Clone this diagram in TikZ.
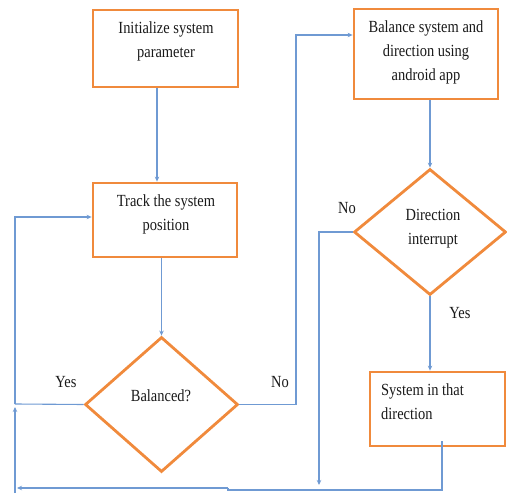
\documentclass[tikz,border=0pt]{standalone}
\usepackage{fontspec}
\setmainfont{Liberation Serif}[FakeStretch=0.85]
\usetikzlibrary{arrows.meta,shapes.geometric}
\definecolor{orng}{HTML}{F08A3C}
\definecolor{lblue}{HTML}{6F9AD3}
\begin{document}
\begin{tikzpicture}[x=1pt,y=-1pt,
  box/.style={draw=orng,line width=2.8pt,inner sep=0pt,rectangle},
  dia/.style={draw=orng,line width=2.8pt,inner sep=0pt,diamond},
  txt/.style={font=\fontsize{17}{24}\selectfont,align=center,inner sep=0pt,text=black!90},
  lab/.style={font=\fontsize{17}{24}\selectfont,inner sep=0pt,text=black!90},
  ln/.style={draw=lblue,line width=1.1pt},
  arr/.style={ln,-{Stealth[length=5pt,width=4.5pt]}}]
\useasboundingbox (0,0) rectangle (507,495);

% shapes
\node[box,minimum width=145pt,minimum height=77pt] (b1) at (165.5,48.5) {};
\node[box,minimum width=144pt,minimum height=74pt] (b2) at (165,220) {};
\node[box,minimum width=144pt,minimum height=90pt] (b3) at (426,54) {};
\node[box,minimum width=135pt,minimum height=74pt] (b4) at (437.5,409) {};
\node[dia,minimum width=153pt,minimum height=135pt] (d1) at (161.5,404.5) {};
\node[dia,minimum width=152pt,minimum height=126pt] (d2) at (430,232) {};

% texts
\node[txt] (t1) at (166,41) {Initialize system\\parameter};
\node[txt] (t2) at (166,214.5) {Track the system\\position};
\node[txt] (t3) at (426,52) {Balance system and\\direction using\\android app};
\node[txt,align=left,anchor=west] (t4) at (381,401.5) {System in that\\direction};
\node[txt] (t5) at (161,396) {Balanced?};
\node[txt] (t6) at (433,228.5) {Direction\\interrupt};

% labels
\node[lab] (l1) at (66,382) {Yes};
\node[lab] (l2) at (280,382) {No};
\node[lab] (l3) at (347,208) {No};
\node[lab] (l4) at (460,313) {Yes};

% coordinates
\coordinate (n1) at (296,35);
\coordinate (lx) at (15,404);
\coordinate (lt) at (15,217);
\coordinate (lb) at (15,493);
\coordinate (nd) at (319,485);
\coordinate (bj) at (442,490);
\coordinate (bj2) at (228,488);
\coordinate (bend) at (17,488);

% connectors
\draw[arr] ([xshift=-8.5pt]b1.south) -- ([xshift=-8.5pt]b1.south |- b2.north);
\draw[arr] (b2.south -| d1.north) -- (d1.north);
\draw[arr] (d1.east) -| (n1) -- (n1 -| b3.west);
\draw[ln] (d1.west) -- (lx);
\draw[arr] (lb) -- ([yshift=-3pt]lx);
\draw[arr] (lx) -- (lt) -- (lt -| b2.west);
\draw[arr] (d2.north |- b3.south) -- (d2.north);
\draw[arr] (d2.west) -| (nd);
\draw[arr] (d2.south) -- (d2.south |- b4.north);
\draw[ln] ([yshift=6pt]bj |- b4.south) -- (bj) -- (bj -| bj2) -- (bj2);
\draw[arr] (bj2) -- (bend);
\end{tikzpicture}
\end{document}
